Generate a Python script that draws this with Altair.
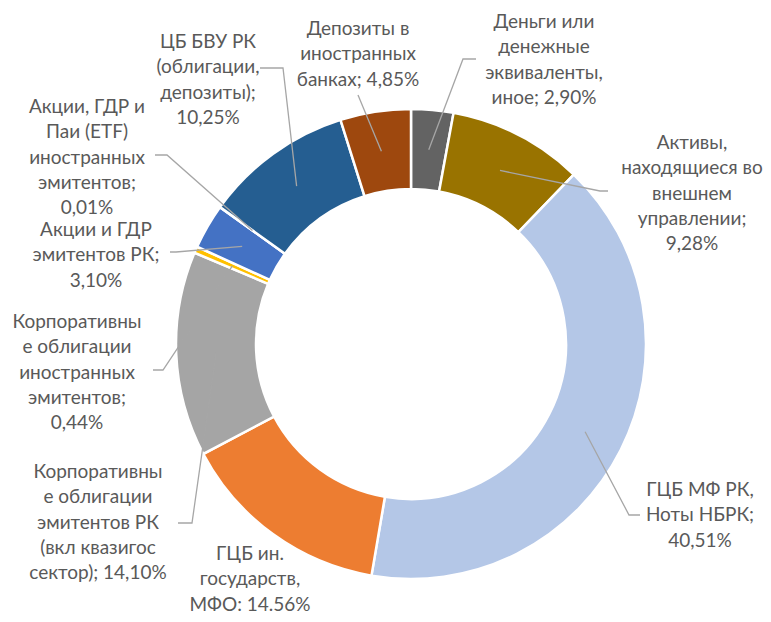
import math
import altair as alt
import pandas as pd

# ---- data (clockwise from 12 o'clock) ----
categories = [
    "Деньги или денежные эквиваленты, иное",
    "Активы, находящиеся во внешнем управлении",
    "ГЦБ МФ РК, Ноты НБРК",
    "ГЦБ ин. государств, МФО",
    "Корпоративные облигации эмитентов РК (вкл квазигос сектор)",
    "Корпоративные облигации иностранных эмитентов",
    "Акции и ГДР эмитентов РК",
    "Акции, ГДР и Паи (ETF) иностранных эмитентов",
    "ЦБ БВУ РК (облигации, депозиты)",
    "Депозиты в иностранных банках",
]
values = [2.90, 9.28, 40.51, 14.56, 14.10, 0.44, 3.10, 0.01, 10.25, 4.85]
label_texts = [
    "Деньги или\nденежные\nэквиваленты,\nиное; 2,90%",
    "Активы,\nнаходящиеся во\nвнешнем\nуправлении;\n9,28%",
    "ГЦБ МФ РК,\nНоты НБРК;\n40,51%",
    "ГЦБ ин.\nгосударств,\nМФО: 14.56%",
    "Корпоративны\nе облигации\nэмитентов РК\n(вкл квазигос\nсектор); 14,10%",
    "Корпоративны\nе облигации\nиностранных\nэмитентов;\n0,44%",
    "Акции и ГДР\nэмитентов РК;\n3,10%",
    "Акции, ГДР и\nПаи (ETF)\nиностранных\nэмитентов;\n0,01%",
    "ЦБ БВУ РК\n(облигации,\nдепозиты);\n10,25%",
    "Депозиты в\nиностранных\nбанках; 4,85%",
]
colors = ["#636363", "#997300", "#B4C7E7", "#ED7D31", "#A5A5A5",
          "#FFC000", "#4472C4", "#70AD47", "#255E91", "#9E480E"]

# ---- layout (page pixel coordinates) ----
M = 8  # page margin
W, H = 755, 606
CX, CY = 411 - M, 344 - M
R_IN, R_OUT = 155, 235
R_MID = (R_IN + R_OUT) / 2

# (center x, first-line center y)
label_pos = [(544, 22), (692, 143), (700, 490), (250, 554), (98, 472),
             (77, 322), (96, 230), (87, 107), (208, 42), (358, 29)]
# leader: (start point next to label, elbow point); None = no leader
leaders = [((476, 59), (463, 59)), ((608, 191), (600, 191)),
           ((640, 515), (629, 515)), None, ((178, 523), (192, 523)),
           ((153, 370), (163, 370)), ((170, 252), (176, 252)),
           ((155, 155), (167, 155)), ((260, 68), (283, 68)),
           ((358, 95), (358, 95))]

df = pd.DataFrame({"cat": categories, "value": values, "idx": range(len(values))})

arcs = alt.Chart(df).mark_arc(
    innerRadius=R_IN, outerRadius=R_OUT, stroke="white", strokeWidth=2.5
).encode(
    theta=alt.Theta("value:Q", stack=True),
    order=alt.Order("idx:Q"),
    color=alt.Color("cat:N", scale=alt.Scale(domain=categories, range=colors), legend=None),
    x=alt.value(CX),
    y=alt.value(CY),
)

# leader lines: label end -> elbow -> slice centroid
rows = []
total = sum(values)
cum = 0.0
for i, v in enumerate(values):
    a = 2 * math.pi * (cum + v / 2) / total
    cum += v
    if leaders[i] is None:
        continue
    (sx, sy), (ex, ey) = leaders[i]
    px = CX + R_MID * math.sin(a)
    py = CY - R_MID * math.cos(a)
    rows += [
        {"g": i, "o": 0, "x": sx - M, "y": sy - M},
        {"g": i, "o": 1, "x": ex - M, "y": ey - M},
        {"g": i, "o": 2, "x": px, "y": py},
    ]
ldf = pd.DataFrame(rows)

lines = alt.Chart(ldf).mark_line(color="#A6A6A6", strokeWidth=1.3).encode(
    x=alt.X("x:Q", scale=None, axis=None),
    y=alt.Y("y:Q", scale=None, axis=None),
    detail="g:N",
    order="o:Q",
)

tdf = pd.DataFrame({
    "label": label_texts,
    "lx": [p[0] - M for p in label_pos],
    "ly": [p[1] - M for p in label_pos],
})
texts = alt.Chart(tdf).mark_text(
    font="Lato", fontSize=19, color="#595959", lineBreak="\n", lineHeight=25.3,
    align="center", baseline="middle",
).encode(
    x=alt.X("lx:Q", scale=None, axis=None),
    y=alt.Y("ly:Q", scale=None, axis=None),
    text="label:N",
)

chart = alt.layer(arcs, lines, texts).properties(
    width=W, height=H, autosize="none", padding=0
).configure_view(stroke=None)

chart.save("out.html", embed_options={"renderer": "svg", "actions": False})
